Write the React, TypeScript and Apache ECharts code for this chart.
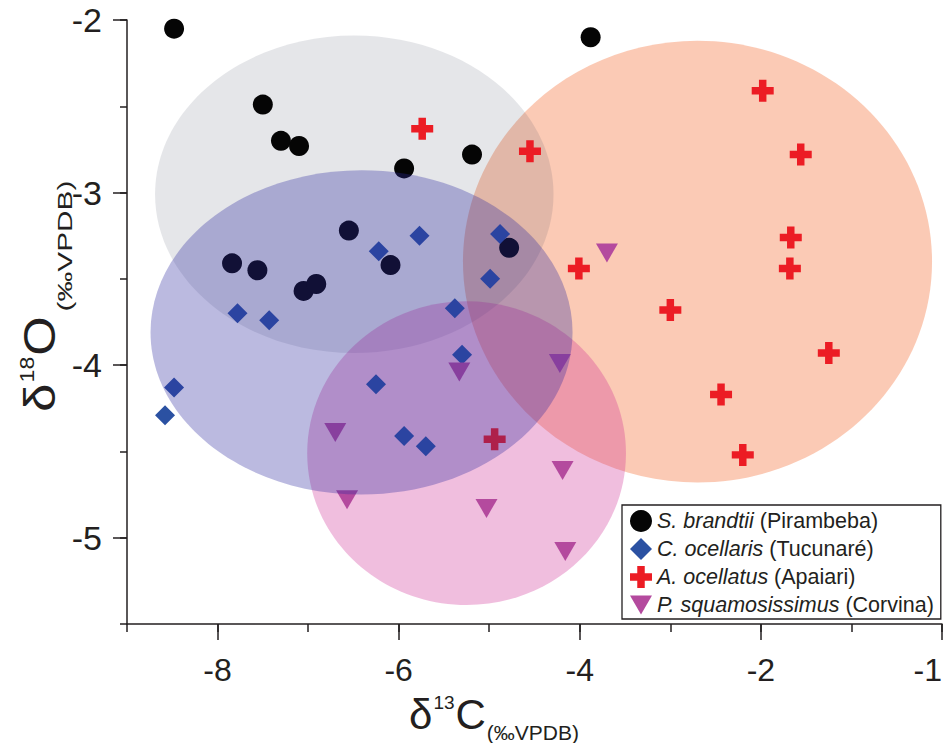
import React, { useEffect, useRef } from 'react';
import * as echarts from 'echarts';

// ---- axes ----
const xMin = -9;
const xMax = 0;
const yMin = -5.5;
const yMax = -2;
const xTickValues = [-8, -6, -4, -2, 0];
const xTickLabels = ['-8', '-6', '-4', '-2', '-1'];
const yTickValues = [-2, -3, -4, -5];
const yTickLabels = ['-2', '-3', '-4', '-5'];

// ---- series ----
const seriesNames = [
  'S. brandtii (Pirambeba)',
  'C. ocellaris (Tucunaré)',
  'A. ocellatus (Apaiari)',
  'P. squamosissimus (Corvina)',
];

const brandtiiX = [-8.48, -7.5, -7.3, -7.1, -5.94, -5.19, -3.88, -6.55, -7.84, -7.56, -7.05, -6.91, -6.09, -4.78];
const brandtiiY = [-2.05, -2.49, -2.7, -2.73, -2.86, -2.78, -2.1, -3.22, -3.41, -3.45, -3.57, -3.53, -3.42, -3.32];

const ocellarisX = [-5.77, -6.22, -4.88, -4.99, -7.78, -7.43, -5.38, -5.3, -8.48, -8.58, -6.25, -5.94, -5.7];
const ocellarisY = [-3.25, -3.34, -3.24, -3.5, -3.7, -3.74, -3.67, -3.94, -4.13, -4.29, -4.11, -4.41, -4.47];

const ocellatusX = [-5.74, -4.55, -1.98, -1.56, -1.67, -1.68, -4.01, -3.0, -1.25, -2.44, -2.2, -4.94];
const ocellatusY = [-2.63, -2.76, -2.41, -2.78, -3.26, -3.44, -3.44, -3.68, -3.93, -4.17, -4.52, -4.43];

const squamoX = [-3.7, -4.22, -5.33, -4.19, -6.7, -6.57, -5.03, -4.16];
const squamoY = [-3.35, -3.99, -4.04, -4.61, -4.39, -4.78, -4.83, -5.08];

// ---- ellipses (data units): gray (brandtii), blue (ocellaris), pink (squamosissimus), orange (ocellatus) ----
const ellipseCx = [-6.49, -6.41, -5.25, -2.7];
const ellipseCy = [-3.01, -3.81, -4.51, -3.4];
const ellipseRx = [2.2, 2.33, 1.76, 2.59];
const ellipseRy = [0.92, 0.94, 0.88, 1.28];

const INK = '#231f20';
const SANS = "'Liberation Sans', Arial, Helvetica, sans-serif";

const CROSS = 'path://M3.3,0H6.7V3.3H10V6.7H6.7V10H3.3V6.7H0V3.3H3.3Z';
const TRI_DOWN = 'path://M0,0H10L5,8.7Z';

function pairs(xs: number[], ys: number[]) {
  return xs.map((x, i) => [x, ys[i]]);
}

function ellipseSeries(idx: number, fill: string, z: number) {
  return {
    type: 'custom',
    silent: true,
    z,
    clip: false,
    xAxisIndex: 0,
    yAxisIndex: 0,
    encode: { x: 0, y: 1 },
    data: [[ellipseCx[idx], ellipseCy[idx], ellipseRx[idx], ellipseRy[idx]]],
    renderItem: (params: any, api: any) => {
      const c = api.coord([api.value(0), api.value(1)]);
      const s = api.size([api.value(2), api.value(3)]);
      return {
        type: 'ellipse',
        shape: { cx: c[0], cy: c[1], rx: s[0], ry: s[1] },
        style: { fill, stroke: 'none' },
      };
    },
  };
}

export default function App() {
  const ref = useRef<HTMLDivElement>(null);

  useEffect(() => {
    if (!ref.current) return;
    const chart = echarts.init(ref.current, undefined, { renderer: 'svg' });
    const axisLineStyle = { color: INK, width: 1.5 };
    const option: any = {
      animation: false,
      backgroundColor: '#ffffff',
      grid: { left: 127, right: 7, top: 20, bottom: 119, containLabel: false, outerBoundsMode: 'none' },
      xAxis: [
        {
          type: 'value', min: xMin, max: xMax, interval: 1, position: 'bottom',
          axisLine: { show: true, onZero: false, lineStyle: axisLineStyle },
          axisTick: { show: true, length: 8, lineStyle: axisLineStyle },
          axisLabel: { show: false },
          splitLine: { show: false },
        },
        {
          type: 'value', min: xMin, max: xMax, position: 'bottom',
          axisLine: { show: false, onZero: false },
          axisTick: { show: true, length: 16, customValues: xTickValues, lineStyle: axisLineStyle },
          axisLabel: {
            show: true, customValues: xTickValues, margin: 30,
            fontSize: 32, fontFamily: SANS, color: INK,
            alignMaxLabel: 'right',
            formatter: (v: number) => {
              const i = xTickValues.indexOf(v);
              return i >= 0 ? xTickLabels[i] : '';
            },
          },
          splitLine: { show: false },
        },
      ],
      yAxis: [
        {
          type: 'value', min: yMin, max: yMax, interval: 0.5, position: 'left',
          axisLine: { show: true, onZero: false, lineStyle: axisLineStyle },
          axisTick: { show: true, length: 7, lineStyle: axisLineStyle },
          axisLabel: { show: false },
          splitLine: { show: false },
        },
        {
          type: 'value', min: yMin, max: yMax, position: 'left',
          axisLine: { show: false, onZero: false },
          axisTick: { show: true, length: 14, customValues: yTickValues, lineStyle: axisLineStyle },
          axisLabel: {
            show: true, customValues: yTickValues, margin: 25,
            fontSize: 34, fontFamily: SANS, color: INK,
            formatter: (v: number) => {
              const i = yTickValues.indexOf(v);
              return i >= 0 ? yTickLabels[i] : '';
            },
          },
          splitLine: { show: false },
        },
      ],
      legend: {
        orient: 'vertical',
        left: 622,
        top: 505,
        z: 10,
        padding: [5, 7, 3, 8],
        itemGap: 6,
        itemWidth: 22,
        itemHeight: 22,
        itemTextGap: 8,
        borderColor: INK,
        borderWidth: 1.3,
        backgroundColor: '#ffffff',
        data: seriesNames,
        formatter: (name: string) => {
          const i = name.indexOf(' (');
          return `{i|${name.slice(0, i)}} ${name.slice(i + 1)}`;
        },
        textStyle: {
          fontSize: 21.5, fontFamily: SANS, color: INK,
          rich: { i: { fontStyle: 'italic', fontSize: 21.5, fontFamily: SANS, color: INK } },
        },
      },
      graphic: [
        {
          type: 'text', x: 494, y: 714, z: 10,
          style: {
            text: '{d|δ}{sup|13}{d|C}{sub|(‰VPDB)}',
            align: 'center', verticalAlign: 'middle',
            rich: {
              d: { fontSize: 42, fontFamily: SANS, fill: INK },
              sup: { fontSize: 19, fontFamily: SANS, fill: INK, padding: [0, 1, 24, 1] },
              sub: { fontSize: 21, fontFamily: SANS, fill: INK, padding: [37, 0, 0, 1] },
            },
          },
        },
        {
          type: 'text', x: 40, y: 364, rotation: Math.PI / 2, scaleX: 1.15, z: 10,
          style: {
            text: '{d|δ}{sup|18}{d|O}',
            align: 'center', verticalAlign: 'middle',
            rich: {
              d: { fontSize: 44, fontFamily: SANS, fill: INK },
              sup: { fontSize: 20, fontFamily: SANS, fill: INK, padding: [0, 1, 26, 1] },
            },
          },
        },
        {
          type: 'text', x: 65, y: 246, rotation: Math.PI / 2, scaleX: 1.42, z: 10,
          style: {
            text: '(‰VPDB)',
            align: 'center', verticalAlign: 'middle',
            fontSize: 21, fontFamily: SANS, fill: INK,
          },
        },
      ],
      series: [
        ellipseSeries(3, 'rgba(244,115,60,0.38)', 1),
        ellipseSeries(0, 'rgba(55,65,85,0.13)', 2),
        ellipseSeries(2, 'rgba(205,40,145,0.30)', 3),
        {
          name: seriesNames[0], type: 'scatter', z: 4, symbol: 'circle', symbolSize: 20,
          itemStyle: { color: '#050505', opacity: 1 }, data: pairs(brandtiiX, brandtiiY),
        },
        {
          name: seriesNames[1], type: 'scatter', z: 4, symbol: 'diamond', symbolSize: 20,
          itemStyle: { color: '#2b51a2', opacity: 1 }, data: pairs(ocellarisX, ocellarisY),
        },
        {
          name: seriesNames[2], type: 'scatter', z: 4, symbol: CROSS, symbolSize: 22,
          itemStyle: { color: '#ec1c24', opacity: 1 }, data: pairs(ocellatusX, ocellatusY),
        },
        {
          name: seriesNames[3], type: 'scatter', z: 4, symbol: TRI_DOWN, symbolSize: [22, 19],
          itemStyle: { color: '#b44a9e', opacity: 1 }, data: pairs(squamoX, squamoY),
        },
        ellipseSeries(1, 'rgba(45,40,160,0.32)', 5),
      ],
    };
    chart.setOption(option);
    return () => chart.dispose();
  }, []);

  return (
    <div
      ref={ref}
      style={{ position: 'absolute', left: 0, top: 0, width: 949, height: 743 }}
    />
  );
}
